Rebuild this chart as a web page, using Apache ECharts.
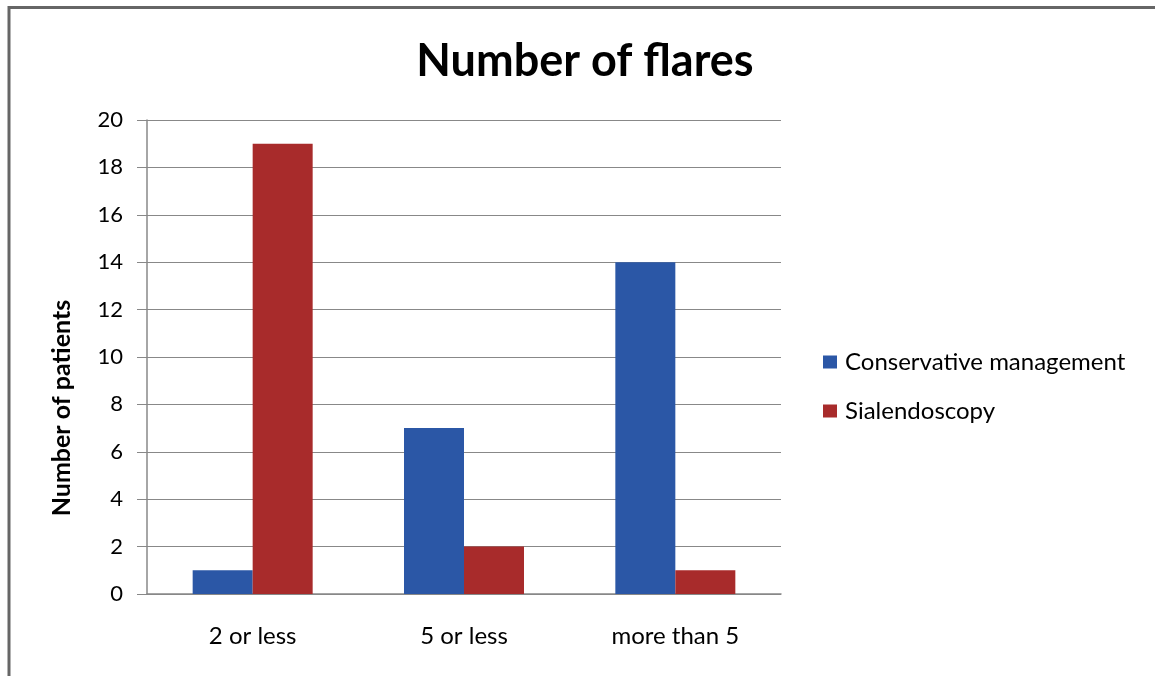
<!DOCTYPE html>
<html><head><meta charset="utf-8">
<script src="https://cdn.jsdelivr.net/npm/echarts@6/dist/echarts.min.js"></script>
<style>html,body{margin:0;padding:0;background:#fff}#c{width:1155px;height:676px}</style>
</head><body><div id="c"></div>
<script>
const categories = ['2 or less', '5 or less', 'more than 5'];
const conservative = [1, 7, 14];
const sialendoscopy = [19, 2, 1];
const seriesNames = ['Conservative management', 'Sialendoscopy'];
const yAxisTitle = 'Number of patients';
const chartTitle = 'Number of flares';
const FONT = 'Lato, "Open Sans", sans-serif';
const chart = echarts.init(document.getElementById('c'));
chart.setOption({
  animation: false,
  backgroundColor: '#fff',
  graphic: [
    {type:'rect', shape:{x:9, y:7.5, width:1300, height:800}, style:{fill:'none', stroke:'#666', lineWidth:3}, silent:true},
    {type:'text', x:62, y:408, rotation:Math.PI/2, silent:true,
      style:{text:yAxisTitle, fontFamily:FONT, fontSize:25, fontWeight:'bold', fill:'#000', align:'center', verticalAlign:'middle'}}
  ],
  title: {text:chartTitle, left:580, top:34, textAlign:'center',
    textStyle:{fontFamily:FONT, fontSize:45, fontWeight:'bold', color:'#000'}},
  legend: {orient:'vertical', left:818, top:345, itemWidth:14, itemHeight:13, itemGap:25,
    icon:'rect', textStyle:{fontFamily:FONT, fontSize:24, color:'#000', padding:[0,0,0,3]},
    data: seriesNames},
  grid: {left:147, right:374, top:120, bottom:82, containLabel:false},
  xAxis: {type:'category', data:categories,
    axisLine:{lineStyle:{color:'#888', width:1.5}}, axisTick:{show:false},
    axisLabel:{fontFamily:FONT, fontSize:24, color:'#000', margin:30}},
  yAxis: {type:'value', min:0, max:20, interval:2,
    axisLine:{show:true, lineStyle:{color:'#888', width:1.5}},
    axisTick:{show:true, length:10, lineStyle:{color:'#888'}},
    splitLine:{lineStyle:{color:'#888', width:1.2}},
    axisLabel:{fontFamily:FONT, fontSize:22, color:'#000', margin:24}},
  series: [
    {name:seriesNames[0], type:'bar', data:conservative, barWidth:60, barGap:'0%', itemStyle:{color:'#2B57A6'}},
    {name:seriesNames[1], type:'bar', data:sialendoscopy, barWidth:60, barGap:'0%', itemStyle:{color:'#A82B2B'}}
  ]
});
</script></body></html>
